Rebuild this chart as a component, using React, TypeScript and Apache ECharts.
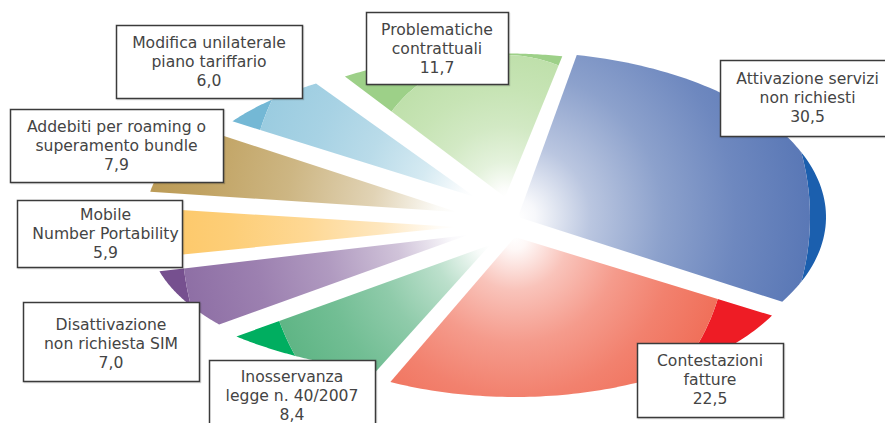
import React, { useEffect, useRef } from "react";
import * as echarts from "echarts";

const categories = [
  "Attivazione servizi\nnon richiesti",
  "Contestazioni\nfatture",
  "Inosservanza\nlegge n. 40/2007",
  "Disattivazione\nnon richiesta SIM",
  "Mobile\nNumber Portability",
  "Addebiti per roaming o\nsuperamento bundle",
  "Modifica unilaterale\npiano tariffario",
  "Problematiche\ncontrattuali",
];
const values = [30.5, 22.5, 8.4, 7.0, 5.9, 7.9, 6.0, 11.7];
const valueLabels = ["30,5", "22,5", "8,4", "7,0", "5,9", "7,9", "6,0", "11,7"];

const START_ANGLE = 79;
// per-slice layout: apex x/y, radii, trims of the start/end angle, radius of the gradient circle
const apexX = [518, 515, 490, 468, 457, 457, 475, 505];
const apexY = [217, 237, 245, 235, 227, 212, 197, 197];
const radX = [308, 295, 347, 319, 310, 310, 293, 295];
const radY = [165, 160, 134, 143, 140, 140, 135, 143.5];
const trimStart = [0, 1.5, 2.8, 1, 0, 0.4, 3.1, 1.7];
const trimEnd = [0, -3, 5.3, 2.2, 1, 1.4, 1.7, -0.2];
const glowR = [290, 212, 224, 286, 300, 340, 225, 142];
// circle bounding the graded part of each slice: shift of its centre from the apex, radius
const rimDx = [48, 0, 0, 0, 0, 0, 0, 0];
const rimDy = [0, 0, 0, 0, 0, 0, 0, 0];
const rimR = [244, 212, 224, 286, 300, 340, 225, 142];
const rimColors = ["#1b5fae", "#ee1c25", "#00ae60", "#76508f", "#fdc04e", "#b39342", "#74b8d5", "#9dd088"];
const endColors = ["#5a78b6", "#f0705a", "#5fb585", "#8e6fa5", "#fdc766", "#b8964e", "#9bcce0", "#bfe0ab"];

const boxes = [
  [720, 60, 175, 76],
  [637, 343, 146, 74],
  [209, 360, 166, 75],
  [23, 302, 176, 79],
  [17, 200, 165, 67],
  [10, 109, 213, 73],
  [116, 25, 186, 73],
  [366, 12, 142, 72],
];
const textDx = [0, 0, 0, 0, 6, 0, 0, 0];
const textDy = [9, 8, 7, 13, 5, 8, 8, 8];

const ARC_STEPS = 80;

function hex(c: string) {
  return [1, 3, 5].map((i) => parseInt(c.slice(i, i + 2), 16));
}
function mix(c: string, t: number) {
  const [r, g, b] = hex(c);
  const f = (v: number) => Math.round(255 + (v - 255) * t);
  return `rgb(${f(r)},${f(g)},${f(b)})`;
}

const total = values.reduce((a, b) => a + b, 0);

function renderSlice(params: any, api: any) {
  const i = params.dataIndex;
  let cum = 0;
  for (let k = 0; k < i; k++) cum += values[k];
  const from = START_ANGLE - (cum / total) * 360 + trimStart[i];
  const to = START_ANGLE - ((cum + api.value(0)) / total) * 360 + trimEnd[i];
  const ax = apexX[i];
  const ay = apexY[i];
  const outerArc: number[][] = [];
  const innerArc: number[][] = [];
  for (let s = 0; s <= ARC_STEPS; s++) {
    const a = ((from + ((to - from) * s) / ARC_STEPS) * Math.PI) / 180;
    const dx = radX[i] * Math.cos(a);
    const dy = -radY[i] * Math.sin(a);
    outerArc.push([ax + dx, ay + dy]);
    // where this ray from the apex leaves the circle bounding the graded part
    const len = Math.hypot(dx, dy);
    const ux = dx / len;
    const uy = dy / len;
    const b = ux * rimDx[i] + uy * rimDy[i];
    const c = rimDx[i] * rimDx[i] + rimDy[i] * rimDy[i] - rimR[i] * rimR[i];
    const hit = b + Math.sqrt(Math.max(0, b * b - c));
    const m = Math.min(len, hit);
    innerArc.push([ax + ux * m, ay + uy * m]);
  }
  const end = endColors[i];
  const fill = {
    type: "radial",
    x: ax,
    y: ay,
    r: glowR[i],
    global: true,
    colorStops: [
      { offset: 0, color: mix(end, 0) },
      { offset: 0.06, color: mix(end, 0.05) },
      { offset: 0.25, color: mix(end, 0.42) },
      { offset: 0.5, color: mix(end, 0.7) },
      { offset: 0.75, color: mix(end, 0.88) },
      { offset: 1, color: mix(end, 1) },
    ],
  };
  return {
    type: "group",
    silent: true,
    children: [
      { type: "polygon", shape: { points: [...outerArc, ...innerArc.slice().reverse()] }, style: { fill: rimColors[i], stroke: null } },
      { type: "polygon", shape: { points: [[ax, ay], ...innerArc] }, style: { fill, stroke: null } },
    ],
  };
}

export default function App() {
  const ref = useRef<HTMLDivElement>(null);
  useEffect(() => {
    const chart = echarts.init(ref.current!, null, { renderer: "svg" });
    const graphic: any[] = [];
    categories.forEach((c, i) => {
      const [x, y, w, h] = boxes[i];
      graphic.push({
        type: "rect",
        z: 10,
        shape: { x: x + 0.5, y: y + 0.5, width: w, height: h },
        style: { fill: "#ffffff", stroke: "#3a3a3a", lineWidth: 1.5, shadowColor: "rgba(0,0,0,0.15)", shadowBlur: 1, shadowOffsetX: 1, shadowOffsetY: 1 },
      });
      graphic.push({
        type: "text",
        z: 11,
        x: x + w / 2 + textDx[i],
        y: y + textDy[i],
        style: {
          text: c + "\n" + valueLabels[i],
          fill: "#444444",
          font: '15.6px "DejaVu Sans"',
          lineHeight: 19.3,
          align: "center",
          verticalAlign: "top",
        },
      });
    });
    chart.setOption({
      animation: false,
      backgroundColor: "#ffffff",
      series: [
        {
          type: "custom",
          coordinateSystem: "none",
          silent: true,
          renderItem: renderSlice,
          data: values.map((v) => [v]),
        },
      ],
      graphic,
    });
    return () => chart.dispose();
  }, []);
  return <div ref={ref} style={{ position: "fixed", left: 0, top: 0, width: 885, height: 423 }} />;
}
